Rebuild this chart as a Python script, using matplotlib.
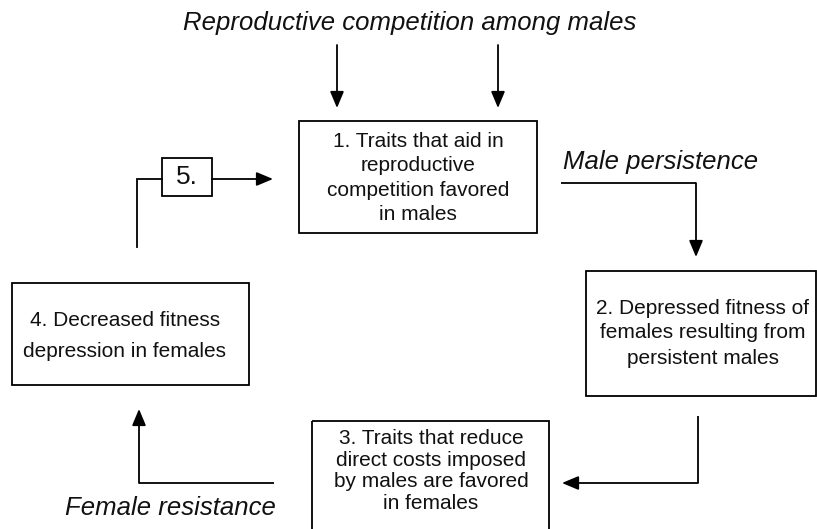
import matplotlib
matplotlib.use('Agg')
import matplotlib.pyplot as plt
from matplotlib.patches import Rectangle

plt.rcParams['font.family'] = ['Liberation Sans', 'DejaVu Sans']

################################################################
########################### Data ###############################
################################################################

box_texts = ["1. Traits that aid in\nreproductive\ncompetition favored\nin males",
             "2. Depressed fitness of\nfemales resulting from\npersistent males",
             "3. Traits that reduce\ndirect costs imposed\nby males are favored\nin females",
             "4. Decreased fitness\ndepression in females",
             "5."]
italic_labels = ["Reproductive competition among males",
                 "Male persistence",
                 "Female resistance"]

################################################################
######################### Layout ###############################
################################################################

# boxes in pixel coords (x0, y0, x1, y1), y grows downward
boxes = [(299, 121, 537, 233),
         (586, 271, 816, 396),
         (312, 421, 549, 540),
         (12, 283, 249, 385),
         (162, 158, 212, 196)]
box_text_pos = [(418, 178), (703, 333), (431, 471), (125, 336), (187, 177)]
box_text_size = [15, 15, 15, 15, 19]
box_linesp = [1.34, 1.40, 1.18, 1.85, 1.2]

label_pos = [(410, 23, 'center'), (563, 162, 'left'), (65, 508, 'left')]

LW = 1.3
HEAD = '-|>,head_length=1.0,head_width=0.42'


def arrow(ax, pts):
    # polyline with the last segment ending in a filled head
    xs = [p[0] for p in pts]
    ys = [p[1] for p in pts]
    if len(pts) > 2:
        ax.plot(xs[:-1], ys[:-1], color='black', lw=LW, solid_capstyle='butt',
                solid_joinstyle='miter')
    ax.annotate('', xy=pts[-1], xytext=pts[-2],
                arrowprops=dict(arrowstyle=HEAD, lw=LW, color='black',
                                shrinkA=0, shrinkB=0, mutation_scale=10))


fig = plt.figure(figsize=(8.17, 5.29), dpi=100)
ax = fig.add_axes([0, 0, 1, 1])
ax.set_xlim(0, 817)
ax.set_ylim(529, 0)
ax.axis('off')

for (x0, y0, x1, y1), txt, (tx, ty), fs, ls in zip(boxes, box_texts, box_text_pos,
                                                   box_text_size, box_linesp):
    ax.add_patch(Rectangle((x0, y0), x1 - x0, y1 - y0, fill=False,
                           edgecolor='black', lw=LW))
    ax.text(tx, ty, txt, ha='center', va='center', fontsize=fs,
            linespacing=ls, color='#111111')

for lab, (lx, ly, ha) in zip(italic_labels, label_pos):
    ax.text(lx, ly, lab, ha=ha, va='center', fontsize=18.5, style='italic',
            color='#111111')

# arrows from the top label
arrow(ax, [(337, 45), (337, 108)])
arrow(ax, [(498, 45), (498, 108)])
# male persistence: box 1 -> box 2
arrow(ax, [(561, 183), (696, 183), (696, 257)])
# box 2 -> box 3
arrow(ax, [(698, 416), (698, 483), (562, 483)])
# female resistance: box 3 -> box 4
arrow(ax, [(274, 483), (139, 483), (139, 409)])
# box 4 -> box 5 -> box 1
ax.plot([137, 137, 162], [247, 179, 179], color='black', lw=LW,
        solid_joinstyle='miter')
arrow(ax, [(212, 179), (273, 179)])

plt.savefig('out.png', dpi=100)
